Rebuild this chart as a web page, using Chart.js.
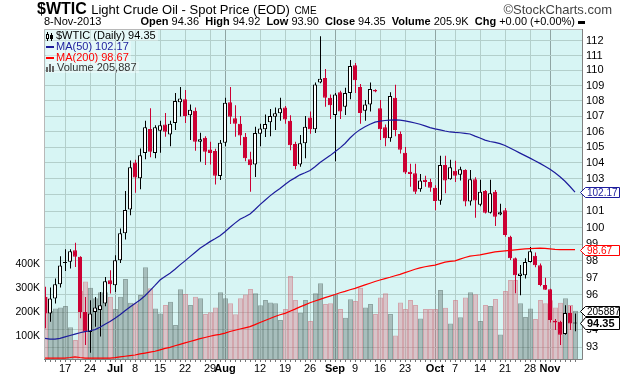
<!DOCTYPE html>
<html><head><meta charset="utf-8">
<script src="https://cdn.jsdelivr.net/npm/chart.js@4.4.1/dist/chart.umd.min.js"></script>
<style>
html,body{margin:0;padding:0;background:#fff;}
#wrap{position:relative;width:620px;height:376px;overflow:hidden;font-family:"Liberation Sans",Arial,sans-serif;color:#000;}
canvas{position:absolute;left:0;top:0;}
.t{position:absolute;white-space:nowrap;}
.lg{position:absolute;left:46px;white-space:nowrap;font:11px "Liberation Sans Narrow","Arial Narrow","Liberation Sans",sans-serif;line-height:11px;height:11px;background:rgba(255,255,255,0.35);padding:0 2px 0 0;}
.ic{display:inline-block;vertical-align:middle;margin-right:2px;}
</style></head><body>
<div id="wrap">
<canvas id="c" width="620" height="376"></canvas>
<div class="t" style="left:37px;top:0px;line-height:16px;">
 <span style="font:bold 16px 'Liberation Sans Narrow','Arial Narrow',sans-serif;">$WTIC</span>
 <span style="font:13px 'Liberation Sans Narrow','Arial Narrow',sans-serif;">Light Crude Oil - Spot Price (EOD)</span>
 <span style="font:10px 'Liberation Sans',Arial,sans-serif;">CME</span>
</div>
<div class="t" style="right:8px;top:3px;font:13px 'Liberation Sans',Arial,sans-serif;line-height:13px;color:#444;">&copy;StockCharts.com</div>
<div class="t" id="hdate" style="left:44px;top:16px;font:11px 'Liberation Sans',Arial,sans-serif;line-height:11px;"></div>
<div class="t" id="hquote" style="right:35px;top:16px;font:11px 'Liberation Sans',Arial,sans-serif;line-height:11px;"></div>
<div class="lg" id="lg1" style="top:30px;"></div>
<div class="lg" id="lg2" style="top:41px;color:#1c1c9c;"></div>
<div class="lg" id="lg3" style="top:52px;color:#ff0000;"></div>
<div class="lg" id="lg4" style="top:62px;color:#333;"></div>
</div>
<script>
// ---------- data ----------
const dates = [
'2013-06-11','2013-06-12','2013-06-13','2013-06-14','2013-06-17','2013-06-18','2013-06-19','2013-06-20','2013-06-21','2013-06-24',
'2013-06-25','2013-06-26','2013-06-27','2013-06-28','2013-07-01','2013-07-02','2013-07-03','2013-07-05','2013-07-08','2013-07-09',
'2013-07-10','2013-07-11','2013-07-12','2013-07-15','2013-07-16','2013-07-17','2013-07-18','2013-07-19','2013-07-22','2013-07-23',
'2013-07-24','2013-07-25','2013-07-26','2013-07-29','2013-07-30','2013-07-31','2013-08-01','2013-08-02','2013-08-05','2013-08-06',
'2013-08-07','2013-08-08','2013-08-09','2013-08-12','2013-08-13','2013-08-14','2013-08-15','2013-08-16','2013-08-19','2013-08-20',
'2013-08-21','2013-08-22','2013-08-23','2013-08-26','2013-08-27','2013-08-28','2013-08-29','2013-08-30','2013-09-03','2013-09-04',
'2013-09-05','2013-09-06','2013-09-09','2013-09-10','2013-09-11','2013-09-12','2013-09-13','2013-09-16','2013-09-17','2013-09-18',
'2013-09-19','2013-09-20','2013-09-23','2013-09-24','2013-09-25','2013-09-26','2013-09-27','2013-09-30','2013-10-01','2013-10-02',
'2013-10-03','2013-10-04','2013-10-07','2013-10-08','2013-10-09','2013-10-10','2013-10-11','2013-10-14','2013-10-15','2013-10-16',
'2013-10-17','2013-10-18','2013-10-21','2013-10-22','2013-10-23','2013-10-24','2013-10-25','2013-10-28','2013-10-29','2013-10-30',
'2013-10-31','2013-11-01','2013-11-04','2013-11-05','2013-11-06','2013-11-07','2013-11-08'];

const opens = [
95.88,94.92,95.79,96.62,97.88,97.94,98.64,98.24,95.01,93.86,
95.01,95.12,95.50,96.85,96.56,98.04,99.65,101.10,104.02,103.03,
104.62,106.16,104.62,106.05,106.45,105.80,106.55,107.90,108.10,107.05,
107.35,105.35,105.60,104.85,104.75,103.18,105.28,107.90,106.85,106.50,
105.67,104.23,103.90,105.85,106.15,106.60,106.95,107.18,107.55,106.70,
105.20,103.90,105.24,106.90,106.15,109.20,109.50,108.20,107.07,108.55,
107.60,108.50,110.35,108.90,107.35,107.75,108.70,107.50,106.27,105.57,
108.20,105.84,104.65,103.45,103.35,102.35,102.95,102.80,102.45,101.64,
103.87,102.97,103.50,103.25,103.55,101.60,102.98,101.40,102.25,100.90,
102.20,100.80,101.05,99.45,98.15,97.10,97.15,97.93,98.30,97.74,
96.58,96.33,94.50,94.45,93.75,94.95,94.36];
const highs = [
96.47,96.43,96.95,98.27,98.70,98.70,99.08,98.27,95.88,95.69,
95.88,96.17,97.05,97.44,98.34,99.95,102.24,104.15,104.20,104.92,
106.70,107.50,106.40,106.70,107.20,106.70,108.50,108.90,108.70,107.75,
107.55,105.92,105.70,105.35,104.90,105.45,108.20,108.90,107.70,107.00,
105.90,104.70,106.30,106.50,107.10,107.45,107.55,108.20,107.65,107.05,
105.35,105.78,107.00,107.30,109.20,112.30,110.10,108.40,108.50,108.65,
108.85,110.70,110.50,109.10,108.05,109.20,108.75,108.05,106.45,108.55,
109.05,106.00,105.00,103.95,103.95,103.30,103.20,103.00,102.60,104.45,
104.45,104.20,104.13,103.75,103.60,103.55,103.10,102.95,102.30,102.95,
102.30,101.45,101.20,99.50,98.20,97.75,98.15,98.83,98.50,97.85,
97.00,96.35,94.60,94.50,95.40,95.35,94.92];
const lows = [
94.07,94.44,95.50,96.43,97.40,97.54,97.64,94.64,93.12,92.69,
94.16,93.60,95.34,96.08,96.17,97.88,99.28,100.75,102.14,102.35,
104.23,104.36,104.30,104.65,105.67,105.06,106.10,106.97,106.55,105.46,
104.77,104.08,103.87,103.90,102.65,102.93,105.06,106.48,105.67,105.12,
104.10,102.20,103.12,105.05,105.65,105.70,106.10,106.70,106.50,104.80,
103.60,103.75,104.30,105.85,105.90,109.15,107.60,106.80,104.10,106.80,
107.06,108.10,108.50,106.50,106.70,107.30,108.55,105.45,105.05,105.35,
105.70,104.60,103.30,102.50,102.05,102.20,102.50,102.20,101.05,101.40,
102.10,102.95,102.80,102.90,101.30,101.35,100.60,101.30,100.85,100.85,
100.10,100.75,99.45,98.05,96.10,95.98,96.95,97.90,97.62,96.50,
96.30,94.40,93.97,93.13,93.70,93.97,93.90];
const closes = [
94.92,95.79,96.62,97.73,97.92,98.58,98.24,95.01,93.87,94.92,
95.27,95.40,96.79,96.62,98.04,99.65,101.07,103.73,103.09,104.49,
106.27,104.70,106.27,106.40,105.98,106.50,107.98,108.15,107.00,107.40,
105.35,105.50,104.70,104.62,103.20,105.28,107.87,106.95,106.50,105.75,
104.30,103.85,105.90,106.20,106.48,107.00,107.18,107.50,106.78,105.12,
103.80,105.24,106.30,106.15,109.07,109.45,108.20,107.70,108.40,107.30,
108.50,110.30,109.35,107.20,107.75,108.77,108.60,106.15,105.57,108.30,
106.10,104.83,103.40,103.30,102.20,102.90,102.80,102.45,101.62,103.87,
102.90,103.72,103.20,103.60,101.60,102.98,101.65,102.20,100.90,102.10,
100.65,100.93,99.55,98.15,97.15,97.25,97.93,98.58,97.74,96.58,
96.30,94.55,94.40,93.70,94.95,94.35,94.35];
const volumes = [
265000,205000,216000,220000,226000,137000,84000,290000,328000,302000,
258000,283000,283000,265000,213000,265000,339000,240000,237000,272000,
388000,300000,216000,195000,230000,244000,146000,296000,276000,230000,
265000,258000,192000,200000,220000,283000,258000,237000,191000,258000,
274000,297000,279000,229000,251000,241000,237000,167000,213000,351000,
251000,198000,251000,163000,279000,321000,234000,237000,275000,213000,
177000,254000,247000,302000,220000,234000,192000,262000,279000,192000,
102000,241000,213000,251000,230000,174000,213000,213000,213000,293000,
219000,153000,251000,179000,262000,283000,275000,163000,230000,226000,
255000,107000,289000,335000,335000,237000,180000,216000,172000,251000,
237000,250000,220000,240000,258000,230000,205887];
const ma50 = [
93.50,93.46,93.46,93.50,93.58,93.66,93.74,93.82,93.88,93.93,
94.00,94.13,94.30,94.46,94.65,94.85,95.08,95.30,95.50,95.70,
95.95,96.25,96.55,96.87,97.08,97.27,97.50,97.76,98.00,98.25,
98.50,98.75,98.95,99.15,99.32,99.50,99.75,100.02,100.27,100.50,
100.66,100.83,101.10,101.40,101.67,101.94,102.18,102.40,102.65,102.88,
103.06,103.25,103.38,103.52,103.76,104.02,104.25,104.46,104.70,104.95,
105.23,105.58,105.88,106.12,106.30,106.47,106.60,106.67,106.71,106.74,
106.75,106.73,106.69,106.62,106.55,106.47,106.36,106.25,106.17,106.10,
106.03,105.97,105.94,105.92,105.88,105.84,105.70,105.58,105.45,105.36,
105.30,105.22,105.10,104.94,104.78,104.62,104.46,104.30,104.14,103.97,
103.79,103.60,103.38,103.13,102.85,102.52,102.17];
const ma200 = [
92.38,92.38,92.38,92.38,92.39,92.42,92.46,92.42,92.39,92.38,
92.38,92.38,92.38,92.39,92.41,92.45,92.49,92.53,92.56,92.62,
92.67,92.72,92.77,92.85,92.93,92.99,93.08,93.16,93.24,93.32,
93.40,93.48,93.55,93.62,93.68,93.73,93.80,93.89,93.96,94.03,
94.10,94.17,94.28,94.40,94.52,94.63,94.75,94.85,94.93,95.05,
95.17,95.30,95.42,95.54,95.64,95.74,95.84,95.93,96.02,96.12,
96.20,96.30,96.38,96.48,96.58,96.68,96.78,96.87,96.95,97.03,
97.12,97.20,97.30,97.40,97.50,97.58,97.65,97.70,97.75,97.84,
97.92,97.97,98.00,98.10,98.20,98.28,98.32,98.36,98.42,98.48,
98.53,98.57,98.60,98.63,98.66,98.69,98.71,98.73,98.75,98.76,
98.75,98.72,98.69,98.67,98.67,98.67,98.67];
const tickDates = ['2013-06-17','2013-06-24','2013-07-01','2013-07-08','2013-07-15','2013-07-22','2013-07-29',
 '2013-08-01','2013-08-12','2013-08-19','2013-08-26','2013-09-03','2013-09-09','2013-09-16','2013-09-23',
 '2013-10-01','2013-10-07','2013-10-14','2013-10-21','2013-10-28','2013-11-01'];
const tickLabels = ['17','24','Jul','8','15','22','29','Aug','12','19','26','Sep','9','16','23','Oct','7','14','21','28','Nov'];
const priceTicks = [93,94,95,96,97,98,99,100,101,102,103,104,105,106,107,108,109,110,111,112];
const volumeTicks = [100000,200000,300000,400000];

// ---------- derived ----------
const N = dates.length, L = N - 1;
const ids = dates.map((d, i) => i);
const tickIdx = tickDates.map(d => dates.indexOf(d));
const isMonth = tickLabels.map(s => /^[A-Za-z]/.test(s));
const RED = '#cc0033', BLK = '#000000';
const upDay = ids.map(i => i === 0 ? closes[i] >= opens[i] : closes[i] >= closes[i - 1]);
const cColor = upDay.map(u => u ? BLK : RED);
const bodyFill = ids.map(i => closes[i] < opens[i] ? cColor[i] : '#ffffff');
const volFill = upDay.map(u => u ? 'rgba(95,108,104,0.40)' : 'rgba(215,110,125,0.36)');
const volLine = upDay.map(u => u ? 'rgba(70,85,80,0.50)' : 'rgba(205,100,115,0.55)');
const FONT = "'Liberation Sans', Arial, sans-serif";

// header and legend text
const MON = ['Jan','Feb','Mar','Apr','May','Jun','Jul','Aug','Sep','Oct','Nov','Dec'];
const lp = dates[L].split('-');
document.getElementById('hdate').textContent = (+lp[2]) + '-' + MON[+lp[1] - 1] + '-' + lp[0];
const chg = closes[L] - closes[L - 1];
const sgn = v => (v >= 0 ? '+' : '') + v.toFixed(2);
document.getElementById('hquote').innerHTML =
  '<b>Open</b> ' + opens[L].toFixed(2) + '&nbsp; <b>High</b> ' + highs[L].toFixed(2) +
  '&nbsp; <b>Low</b> ' + lows[L].toFixed(2) + '&nbsp; <b>Close</b> ' + closes[L].toFixed(2) +
  '&nbsp; <b>Volume</b> ' + (volumes[L] / 1000).toFixed(1) + 'K&nbsp; <b>Chg</b> ' + sgn(chg) +
  ' (' + sgn(chg / closes[L - 1] * 100) + '%)' +
  '<span style="display:inline-block;width:7px;height:3px;background:#000;margin-left:3px;vertical-align:middle;"></span>';
const candleIcon = '<svg class="ic" width="8" height="9" viewBox="0 0 8 9"><path d="M1.5 0v9M5.5 1v8" stroke="#000" stroke-width="1"/><rect x="0.5" y="2.5" width="2" height="4" fill="#fff" stroke="#000"/><rect x="4" y="3" width="3" height="4" fill="#000"/></svg>';
const dashIcon = c => '<span class="ic" style="width:8px;height:2px;background:' + c + ';"></span>';
const barIcon = '<svg class="ic" width="9" height="8" viewBox="0 0 9 8"><rect x="0" y="3" width="2" height="5" fill="#666"/><rect x="3" y="0" width="2" height="8" fill="#666"/><rect x="6" y="2" width="2" height="6" fill="#666"/></svg>';
document.getElementById('lg1').innerHTML = candleIcon + '$WTIC (Daily) ' + closes[L].toFixed(2);
document.getElementById('lg2').innerHTML = dashIcon('#1c1c9c') + 'MA(50) ' + ma50[L].toFixed(2);
document.getElementById('lg3').innerHTML = dashIcon('#ff0000') + 'MA(200) ' + ma200[L].toFixed(2);
document.getElementById('lg4').innerHTML = barIcon + 'Volume ' + volumes[L].toLocaleString('en-US');

// ---------- plugin: background, frame, value tags ----------
function drawTag(ctx, y, text, color, font, h) {
  y = Math.round(y) + 0.5;
  const x0 = 580.5, x1 = 585.5, x2 = 619.5;
  ctx.beginPath();
  ctx.moveTo(x0, y); ctx.lineTo(x1, y - h / 2); ctx.lineTo(x2, y - h / 2);
  ctx.lineTo(x2, y + h / 2); ctx.lineTo(x1, y + h / 2); ctx.closePath();
  ctx.fillStyle = '#ffffff'; ctx.fill();
  ctx.lineWidth = 1; ctx.strokeStyle = color; ctx.stroke();
  ctx.fillStyle = color; ctx.font = font; ctx.textBaseline = 'middle'; ctx.textAlign = 'left';
  ctx.fillText(text, 587, y + 0.5);
}
const framePlugin = {
  id: 'frame',
  beforeDraw(chart) {
    const { ctx, chartArea: a } = chart;
    ctx.save(); ctx.fillStyle = '#d7f5f4';
    ctx.fillRect(a.left, a.top, a.right - a.left, a.bottom - a.top); ctx.restore();
  },
  afterDatasetsDraw(chart) {
    const { ctx, chartArea: a } = chart;
    ctx.save(); ctx.lineWidth = 1;
    ctx.strokeStyle = '#b8b8b8';
    ctx.beginPath(); ctx.moveTo(a.left + 0.5, a.bottom); ctx.lineTo(a.left + 0.5, a.top + 0.5);
    ctx.lineTo(a.right - 0.5, a.top + 0.5); ctx.stroke();
    ctx.strokeStyle = '#808080';
    ctx.beginPath(); ctx.moveTo(a.right - 0.5, a.top); ctx.lineTo(a.right - 0.5, a.bottom - 0.5);
    ctx.lineTo(a.left, a.bottom - 0.5); ctx.stroke();
    ctx.restore();
  },
  afterDraw(chart) {
    const ctx = chart.ctx, y = chart.scales.y, yv = chart.scales.yv;
    ctx.save();
    drawTag(ctx, y.getPixelForValue(ma50[L]), ma50[L].toFixed(2), '#1c1c9c', '10px ' + FONT, 10);
    drawTag(ctx, y.getPixelForValue(ma200[L]), ma200[L].toFixed(2), '#ff0000', '10px ' + FONT, 10);
    drawTag(ctx, yv.getPixelForValue(volumes[L]), String(volumes[L]), '#000000', '10px ' + FONT, 10);
    drawTag(ctx, y.getPixelForValue(closes[L]), closes[L].toFixed(2), '#000000', 'bold 11px ' + FONT, 12);
    ctx.restore();
  }
};

// ---------- chart ----------
new Chart(document.getElementById('c'), {
  type: 'bar',
  data: {
    datasets: [
      { type: 'line', label: 'MA(50)', data: ids.map(i => ({ x: i, y: ma50[i] })), yAxisID: 'y',
        borderColor: '#1c1c9c', borderWidth: 1.2, pointRadius: 0, tension: 0, order: 0, clip: 0 },
      { type: 'line', label: 'MA(200)', data: ids.map(i => ({ x: i, y: ma200[i] })), yAxisID: 'y',
        borderColor: '#ff0000', borderWidth: 1.2, pointRadius: 0, tension: 0, order: 0, clip: 0 },
      { label: 'body', data: ids.map(i => ({ x: i, y: [opens[i], closes[i]] })), yAxisID: 'y',
        backgroundColor: bodyFill, borderColor: cColor, borderWidth: 1, borderSkipped: false,
        barThickness: 4, minBarLength: 1, grouped: false, inflateAmount: 0, order: 1, clip: 0 },
      { label: 'wick', data: ids.map(i => ({ x: i + 0.1, y: [lows[i], highs[i]] })), yAxisID: 'y',
        backgroundColor: cColor, borderWidth: 0, barThickness: 1, grouped: false, inflateAmount: 0, order: 2, clip: 0 },
      { label: 'Volume', data: ids.map(i => ({ x: i + 0.1, y: volumes[i] })), yAxisID: 'yv',
        backgroundColor: volFill, borderColor: volLine, borderWidth: 1, borderSkipped: 'start',
        barThickness: 5, grouped: false, inflateAmount: 0, order: 3, clip: 0 }
    ]
  },
  options: {
    responsive: false, maintainAspectRatio: false, animation: false, events: [],
    devicePixelRatio: 1,
    layout: { padding: { top: 29, left: 0, right: 0, bottom: 0 } },
    plugins: { legend: { display: false }, tooltip: { enabled: false }, title: { display: false } },
    scales: {
      x: {
        type: 'linear', min: -0.2, max: 107.6, offset: false,
        afterBuildTicks: s => { s.ticks = ids.map(i => ({ value: i })); },
        afterFit: s => { s.height = 16; },
        grid: {
          offset: false, drawOnChartArea: true, tickLength: 2, tickColor: '#777',
          color: c => { const k = tickIdx.indexOf(c.tick ? c.tick.value : -1); return k < 0 ? 'rgba(0,0,0,0)' : (isMonth[k] ? '#8fa5a3' : '#b3cfcb'); }
        },
        border: { display: false },
        ticks: {
          autoSkip: false, maxRotation: 0, minRotation: 0, padding: 0, color: '#000',
          callback: v => { const k = tickIdx.indexOf(v); return k < 0 ? '' : tickLabels[k]; },
          font: c => { const k = tickIdx.indexOf(c.tick ? c.tick.value : -1); return { family: FONT, size: 11, weight: (k >= 0 && isMonth[k]) ? 'bold' : 'normal' }; }
        }
      },
      y: {
        type: 'logarithmic', position: 'right', min: 92.28, max: 112.8,
        afterBuildTicks: s => { s.ticks = priceTicks.map(v => ({ value: v })); },
        afterFit: s => { s.width = 37; },
        grid: { color: '#b3cfcb', drawTicks: false },
        border: { display: false },
        ticks: { padding: 3, color: '#000', font: { family: FONT, size: 11 }, callback: v => String(v) }
      },
      yv: {
        type: 'linear', position: 'left', min: 0, max: 1385000,
        afterBuildTicks: s => { s.ticks = volumeTicks.map(v => ({ value: v })); },
        afterFit: s => { s.width = 44; },
        grid: { display: false, drawTicks: false },
        border: { display: false },
        ticks: { padding: 4, color: '#000', font: { family: FONT, size: 10.5 }, callback: v => (v / 1000) + 'K' }
      }
    }
  },
  plugins: [framePlugin]
});
</script>
</body></html>
